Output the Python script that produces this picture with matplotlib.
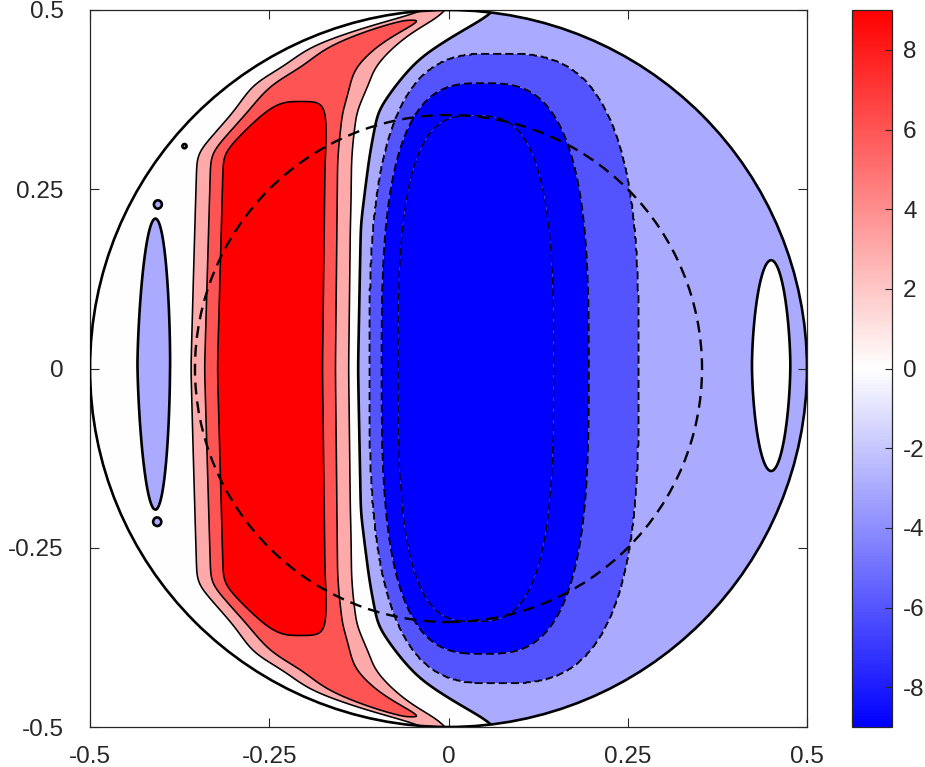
import numpy as np
import matplotlib
matplotlib.use("Agg")
import matplotlib.pyplot as plt
from matplotlib.colors import LinearSegmentedColormap, Normalize
from matplotlib.patches import Circle
import matplotlib.cm as cm

# ---------------- data ----------------
fill_levels = [-9, -6, -3, 0, 3, 6, 9]
clim = (-9, 9)
cbar_ticks = [-8, -6, -4, -2, 0, 2, 4, 6, 8]
cbar_ticklabels = ['-8', '-6', '-4', '-2', '0', '2', '4', '6', '8']
ticks = [-0.5, -0.25, 0, 0.25, 0.5]
ticklabels = ['-0.5', '-0.25', '0', '0.25', '0.5']
domain_radius = 0.5
dashed_radius = 0.3536

# positive band: amplitude, centre and width as functions of |y|
red_y = [0.0, 0.30, 0.358, 0.40, 0.42, 0.45, 0.48, 0.49, 0.50]
red_amp = [12.0, 12.0, 9.0, 6.66, 6.05, 6.04, 6.02, 5.0, 3.5]
red_cx = [-0.249, -0.243, -0.214, -0.190, -0.167, -0.135, -0.070, -0.040, -0.005]
red_wx = [0.096, 0.093, 0.078, 0.077, 0.064, 0.058, 0.035, 0.030, 0.012]
red_pow = 3.57

# negative core: nested contour shapes (level, x-centre, left/right half-width, half-height)
blue_levels = [-3.0, -6.0, -9.0, -12.0]
blue_xc = [0.068, 0.048, 0.036, 0.036]
blue_al = [0.179, 0.1415, 0.1068, 0.05]
blue_ar = [0.198, 0.1477, 0.111, 0.05]
blue_b = [0.44, 0.398, 0.353, 0.20]
blue_q = 3.0

# background level left / right of the dividing (zero) curve
bg_left, bg_right = 0.8, -2.0
div_y = [0.0, 0.20, 0.30, 0.36, 0.398, 0.434, 0.465, 0.493, 0.50]
div_x = [-0.129, -0.124, -0.108, -0.0955, -0.068, -0.036, 0.012, 0.062, 0.075]

# small negative island (left), tiny specks, and positive island (right)
isl_x, isl_wx, isl_y, isl_h, isl_amp = -0.408, 0.031, 0.006, 0.262, -1.6
dots_x = [-0.368, -0.405, -0.406]
dots_y = [0.310, 0.229, -0.214]
dots_w = [0.0035, 0.0032, 0.0032]
dot_amp = -2.0
ell_x, ell_wx, ell_y, ell_h, ell_amp = 0.45, 0.042, 0.004, 0.25, 3.0


def smooth_profile(yq, yk, vk, sigma):
    yy = np.linspace(-0.2, 0.7, 1801)
    base = np.interp(np.abs(yy), yk, vk)
    step = yy[1] - yy[0]
    kx = np.arange(-int(4 * sigma / step), int(4 * sigma / step) + 1) * step
    kern = np.exp(-0.5 * (kx / sigma) ** 2)
    kern /= kern.sum()
    sm = np.convolve(base, kern, mode='same')
    return np.interp(yq, yy, sm)


# ---------------- field ----------------
n = 801
xs = np.linspace(-0.5, 0.5, n)
ys = np.linspace(-0.5, 0.5, n)
X, Y = np.meshgrid(xs, ys)
AY = np.abs(Y)

A = smooth_profile(AY, red_y, red_amp, 0.010)
C = smooth_profile(AY, red_y, red_cx, 0.012)
Wd = smooth_profile(AY, red_y, red_wx, 0.010)
red = A * np.exp(-(np.abs(X - C) / Wd) ** red_pow)

x0 = smooth_profile(AY, div_y, div_x, 0.012)
s = 1.0 / (1.0 + np.exp(-(X - x0) / 0.004))
bg = bg_left + (bg_right - bg_left) * s

isl = isl_amp * np.exp(-((X - isl_x) / isl_wx) ** 2 - (np.abs(Y - isl_y) / isl_h) ** 1.5)
dots = np.zeros_like(X)
for dxp, dyp, dw in zip(dots_x, dots_y, dots_w):
    dots += dot_amp * np.exp(-((X - dxp) ** 2 + (Y - dyp) ** 2) / dw ** 2)
ell = ell_amp * np.exp(-((X - ell_x) / ell_wx) ** 2 - (np.abs(Y - ell_y) / ell_h) ** 1.7)

F = red + bg + isl + dots + ell

# blue core: interpolate between the nested shapes
U = []
for xc, al, ar, b in zip(blue_xc, blue_al, blue_ar, blue_b):
    dx = X - xc
    a = np.where(dx < 0, al, ar)
    rho = ((np.abs(dx) / a) ** blue_q + (AY / b) ** blue_q) ** (1.0 / blue_q)
    U.append(rho - 1.0)
K = len(blue_levels)
for k in range(K - 1):
    m = (U[k] <= 0) & (U[k + 1] > 0)
    t = -U[k][m] / (U[k + 1][m] - U[k][m])
    F[m] = blue_levels[k] + t * (blue_levels[k + 1] - blue_levels[k])
F[U[K - 1] <= 0] = blue_levels[-1]

# ---------------- colours ----------------
cmap = LinearSegmentedColormap.from_list('bwr_m', [(0, 0, 1), (1, 1, 1), (1, 0, 0)], N=256)
norm = Normalize(*clim)
band_levels = [-100] + fill_levels + [100]
band_vals = [fill_levels[0]] + fill_levels
band_colors = [cmap(norm(v)) for v in band_vals]

# ---------------- figure ----------------
W_px, H_px = 925, 767
fig = plt.figure(figsize=(W_px / 100, H_px / 100), dpi=100)
ax = fig.add_axes([90 / W_px, (H_px - 727) / H_px, 717 / W_px, 717 / H_px])

clip = Circle((0, 0), domain_radius, transform=ax.transData, facecolor='none', edgecolor='none')
ax.add_patch(clip)

cf = ax.contourf(X, Y, F, levels=band_levels, colors=band_colors, antialiased=True)
cf.set_clip_path(clip)

cs_pos = ax.contour(X, Y, F, levels=[3, 6, 9], colors='k', linewidths=1.15, linestyles='solid')
cs_zero = ax.contour(X, Y, F, levels=[0], colors='k', linewidths=1.9, linestyles='solid')
cs_n1 = ax.contour(X, Y, F, levels=[-6, -3], colors='k', linewidths=1.3,
                   linestyles=[(0, (4.5, 2.2))])
cs_n2 = ax.contour(X, Y, F, levels=[-9], colors='k', linewidths=0.9,
                   linestyles=[(0, (6, 3))])
for c in (cs_pos, cs_zero, cs_n1, cs_n2):
    c.set_clip_path(clip)

ax.add_patch(Circle((0, 0), domain_radius, fill=False, edgecolor='k', lw=1.9, zorder=5))
ax.add_patch(Circle((0, 0), dashed_radius, fill=False, edgecolor='k', lw=1.7,
                    linestyle=(0, (5, 3)), zorder=5))

ax.set_xlim(-0.5, 0.5)
ax.set_ylim(-0.5, 0.5)
ax.set_aspect('auto')
ax.set_xticks(ticks)
ax.set_xticklabels(ticklabels)
ax.set_yticks(ticks)
ax.set_yticklabels(ticklabels)
for lab in ax.get_xticklabels() + ax.get_yticklabels():
    lab.set_fontfamily('Liberation Sans')
    lab.set_fontsize(17.5)
    lab.set_color('#262626')
ax.tick_params(direction='in', length=6.5, width=0.8, top=True, right=True,
               color='#262626')
ax.tick_params(axis='x', pad=13.5)
ax.tick_params(axis='y', pad=19)
for sp in ax.spines.values():
    sp.set_color('#262626')
    sp.set_linewidth(0.9)

cax = fig.add_axes([852 / W_px, (H_px - 727) / H_px, 40 / W_px, 717 / H_px])
sm = cm.ScalarMappable(norm=norm, cmap=cmap)
cb = fig.colorbar(sm, cax=cax, ticks=cbar_ticks)
cb.ax.set_yticklabels(cbar_ticklabels)
cb.outline.set_edgecolor('#262626')
cb.outline.set_linewidth(0.9)
cax.tick_params(direction='in', length=5, width=0.8, right=True, left=False,
                color='#262626', pad=8)
for lab in cax.get_yticklabels():
    lab.set_fontfamily('Liberation Sans')
    lab.set_fontsize(17.5)
    lab.set_color('#262626')

fig.savefig('out.png', dpi=100)
